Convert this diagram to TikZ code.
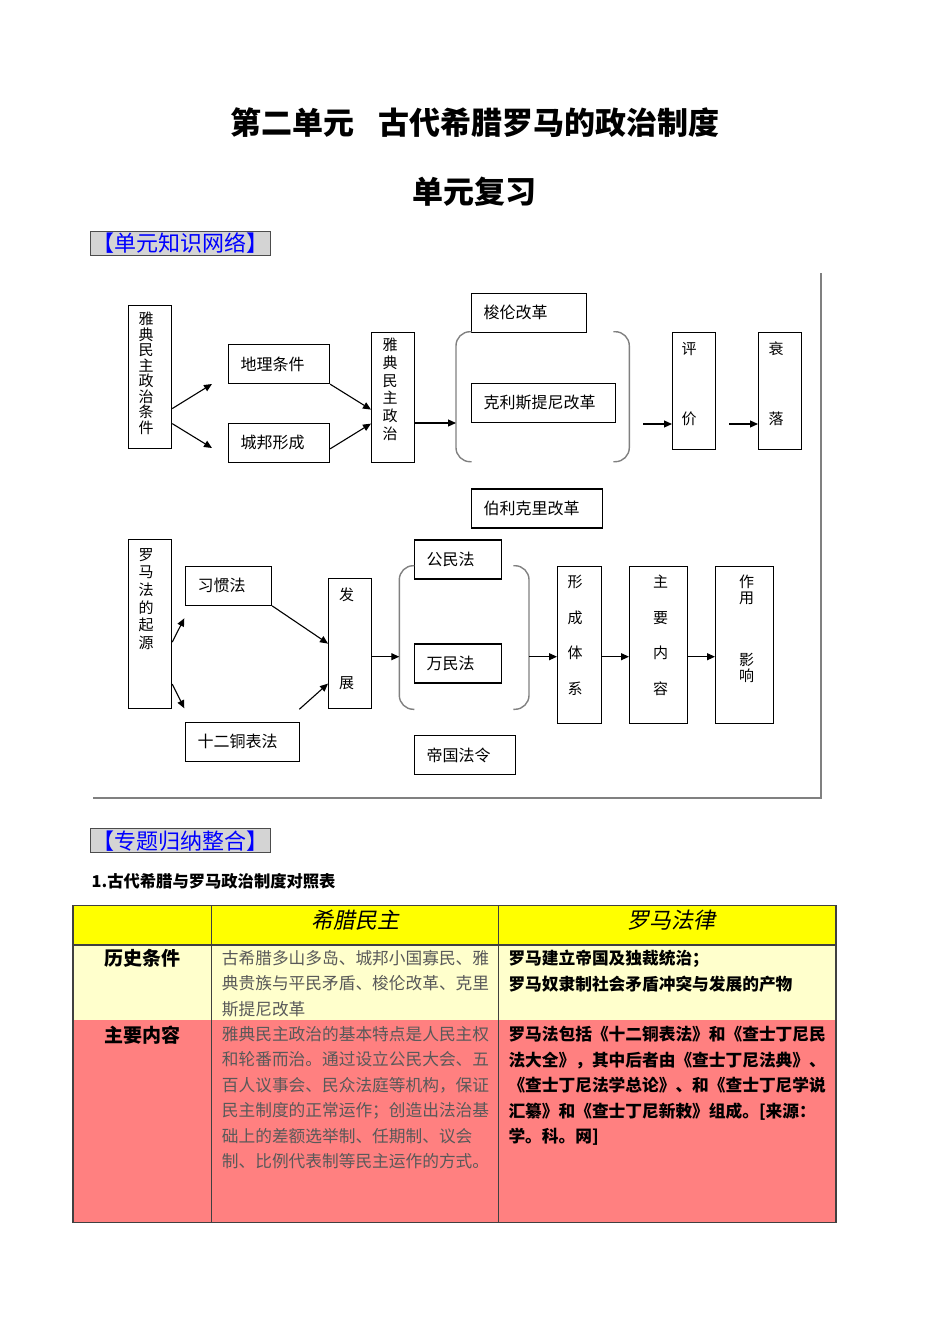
\documentclass[tikz,border=0pt]{standalone}
\usepackage{fontspec}
\setmainfont{Noto Sans CJK SC}
\newfontfamily\cjkit[FakeSlant=0.2]{Noto Sans CJK SC}
\usepackage{xcolor}
\usepackage{tikz}
\usetikzlibrary{arrows.meta}

\definecolor{hdyellow}{HTML}{FFFF00}
\definecolor{rowyellow}{HTML}{FFFFCC}
\definecolor{rowred}{HTML}{FF8080}
\definecolor{tagfill}{HTML}{D4D4D4}

\begin{document}
\begin{tikzpicture}[
    x=1pt, y=-1pt,
    >={Triangle[length=8pt,width=7pt]},
    hbox/.style={rectangle, draw, line width=1.2pt, anchor=north west, inner xsep=12pt, inner ysep=0pt, minimum height=39pt, align=left, text width=#1, font=\fontsize{16}{19}\selectfont},
    vbox/.style={rectangle, draw, line width=1.2pt, anchor=north west, inner sep=0pt},
    vtext/.style={anchor=north, inner sep=0pt, align=center, font=\fontsize{15}{#1}\selectfont},
    arrow/.style={->, line width=1.1pt},
    bracket/.style={draw=black!50, line width=1.4pt, rounded corners=14pt},
    frame/.style={draw=black!50, line width=2pt},
    tag/.style={rectangle, draw=black!70, fill=tagfill, line width=1pt, inner sep=0pt, minimum width=180pt, minimum height=24pt, anchor=north west, text=blue, font=\fontsize{22}{24}\selectfont},
    title/.style={font=\fontsize{31}{34}\selectfont\bfseries, inner sep=0pt},
    grid/.style={draw=black!75, line width=1.5pt},
    rowlabel/.style={font=\fontsize{19}{22}\selectfont\bfseries, inner sep=0pt},
    cell/.style={anchor=north west, inner sep=0pt, align=left, font=\fontsize{16.7}{25.5}\selectfont}
]
\useasboundingbox (0,0) rectangle (950,1344);

% Titles
\node[title] (title) at (475,122.5) {第二单元\hspace{0.8em}古代希腊罗马的政治制度};
\node[title] (subtitle) at (474,191.5) {单元复习};
\node[tag] (net) at (90,231) {【单元知识网络】};

% Row 1: Athenian democracy
\node[vbox, minimum width=43pt, minimum height=143pt] (cond) at (128,305) {};
\node[vtext=15.5] (cond-t) at (146,312) {雅\\典\\民\\主\\政\\治\\条\\件};
\node[hbox=77pt] (geo) at (228,344) {地理条件};
\node[hbox=77pt] (city) at (228,422.7) {城邦形成};
\node[vbox, minimum width=43pt, minimum height=130pt] (demo) at (371,332) {};
\node[vtext=17.7] (demo-t) at (390,338) {雅\\典\\民\\主\\政\\治};
\node[hbox=91pt] (solon) at (471,292.7) {梭伦改革};
\node[hbox=120pt] (cleis) at (471,382.7) {克利斯提尼改革};
\node[hbox=107pt] (peri) at (471,488.3) {伯利克里改革};
\node[vbox, minimum width=43pt, minimum height=116.5pt] (eval) at (672,332) {};
\node[vtext=15] (eval-t) at (689,341.7) {评\\[55pt]价};
\node[vbox, minimum width=43pt, minimum height=116.5pt] (decl) at (758,332) {};
\node[vtext=15] (decl-t) at (776,341.7) {衰\\[55pt]落};

\coordinate (geo-in) at (212,384);
\coordinate (city-in) at (212,448);
\coordinate (brA-l) at (456,423);
\coordinate (brA-r) at (643.3,424);
\coordinate (ev-out) at (729.3,424);

% Bracket round the reforms
\draw[bracket] (471.7,331.7) -- (456,331.7) -- (456,461.7) -- (471.7,461.7);
\draw[bracket] (613.3,331.7) -- (629.3,331.7) -- (629.3,461.7) -- (613.3,461.7);

% Arrows Row 1
\draw[arrow] ([yshift=-31.5pt]cond.east) -- (geo-in);
\draw[arrow] ([yshift=-46.5pt]cond.east) -- (city-in);
\draw[arrow] (geo.south east) -- ([yshift=-12pt]demo.west);
\draw[arrow] ([yshift=-6pt]city.east) -- ([yshift=-26pt]demo.west);
\draw[arrow] (brA-l -| demo.east) -- (brA-l);
\draw[arrow] (brA-r) -- (brA-r -| eval.west);
\draw[arrow] (ev-out) -- (ev-out -| decl.west);

% Row 2: Roman law
\node[vbox, minimum width=43pt, minimum height=169pt] (origin) at (128,539) {};
\node[vtext=17.7] (origin-t) at (146,548) {罗\\马\\法\\的\\起\\源};
\node[hbox=62pt] (cust) at (185,565.7) {习惯法};
\node[hbox=90pt] (twelve) at (185,721.7) {十二铜表法};
\node[vbox, minimum width=43pt, minimum height=130pt] (dev) at (328,578) {};
\node[vtext=15] (dev-t) at (346.7,588) {发\\[73pt]展};
\node[hbox=63pt] (civil) at (414,539.3) {公民法};
\node[hbox=63pt] (gent) at (414,643.3) {万民法};
\node[hbox=77pt] (edict) at (414,735) {帝国法令};
\node[vbox, minimum width=44pt, minimum height=156.5pt] (sys) at (557,566) {};
\node[vtext=35.6] (sys-t) at (575,575) {形\\成\\体\\系};
\node[vbox, minimum width=58pt, minimum height=156.5pt] (cont) at (629,566) {};
\node[vtext=35.6] (cont-t) at (660.7,575) {主\\要\\内\\容};
\node[vbox, minimum width=58pt, minimum height=156.5pt] (infl) at (715,566) {};
\node[vtext=16] (infl-t) at (746.7,575) {作\\用\\[45.7pt]影\\响};

\coordinate (cust-in) at (184.3,618.3);
\coordinate (twelve-in) at (184.3,708.3);
\coordinate (twelve-out) at (299.3,709.3);
\coordinate (brB-l) at (399.3,656.7);
\coordinate (brB-r) at (529,656.7);

% Bracket round the laws
\draw[bracket] (414.3,565.7) -- (399.3,565.7) -- (399.3,709.3) -- (414.3,709.3);
\draw[bracket] (513.3,565.7) -- (529,565.7) -- (529,709.3) -- (513.3,709.3);

% Arrows Row 2
\draw[arrow] ([yshift=-18pt]origin.east) -- (cust-in);
\draw[arrow] ([yshift=-60pt]origin.east) -- (twelve-in);
\draw[arrow] (cust.south east) -- (dev.west);
\draw[arrow] (twelve-out) -- ([yshift=-40pt]dev.west);
\draw[arrow] (brB-l -| dev.east) -- (brB-l);
\draw[arrow] (brB-r) -- (brB-r -| sys.west);
\draw[arrow] (brB-r -| sys.east) -- (brB-r -| cont.west);
\draw[arrow] (brB-r -| cont.east) -- (brB-r -| infl.west);

% Frame of the network
\draw[frame] (821,273) -- (821,797.7) -- (93.3,797.7);

% Table
\node[tag] (summary) at (90,828.3) {【专题归纳整合】};
\node[anchor=west, inner sep=0pt, font=\fontsize{16.3}{19}\selectfont\bfseries] (tab-cap) at (91.5,881) {1.古代希腊与罗马政治制度对照表};

\fill[hdyellow] (73,905.7) rectangle (836,945);
\fill[rowyellow] (73,945) rectangle (836,1020);
\fill[rowred] (73,1020) rectangle (836,1222.5);
\draw[grid] (73,905.7) rectangle (836,1222.5);
\draw[grid] (73,945) -- (836,945);
\draw[grid] (211.5,905.7) -- (211.5,1222.5);
\draw[grid] (498.3,905.7) -- (498.3,1222.5);

\node[inner sep=0pt, font=\fontsize{22}{24}\selectfont\cjkit] (gr-head) at (355,920) {希腊民主};
\node[inner sep=0pt, font=\fontsize{22}{24}\selectfont\cjkit] (rm-head) at (671,920) {罗马法律};
\node[rowlabel] (cond-label) at (142.5,958) {历史条件};
\node[rowlabel] (cont-label) at (142.5,1035) {主要内容};

\node[cell, text=black!65] (gr-cond) at (221.7,950) {古希腊多山多岛、城邦小国寡民、雅\\典贵族与平民矛盾、梭伦改革、克里\\斯提尼改革};
\node[cell, font=\fontsize{16.7}{26}\selectfont\bfseries] (rm-cond) at (508.3,950) {罗马建立帝国及独裁统治；\\罗马奴隶制社会矛盾冲突与发展的产物};
\node[cell, text=black!65] (gr-cont) at (221.7,1026) {雅典民主政治的基本特点是人民主权\\和轮番而治。通过设立公民大会、五\\百人议事会、民众法庭等机构，保证\\民主制度的正常运作；创造出法治基\\础上的差额选举制、任期制、议会\\制、比例代表制等民主运作的方式。};
\node[cell, font=\fontsize{16.7}{25.5}\selectfont\bfseries] (rm-cont) at (508.3,1026) {罗马法包括《十二铜表法》和《查士丁尼民\\法大全》，其中后者由《查士丁尼法典》、\\《查士丁尼法学总论》、和《查士丁尼学说\\汇纂》和《查士丁尼新敕》组成。[来源：\\学。科。网]};

\end{tikzpicture}
\end{document}
